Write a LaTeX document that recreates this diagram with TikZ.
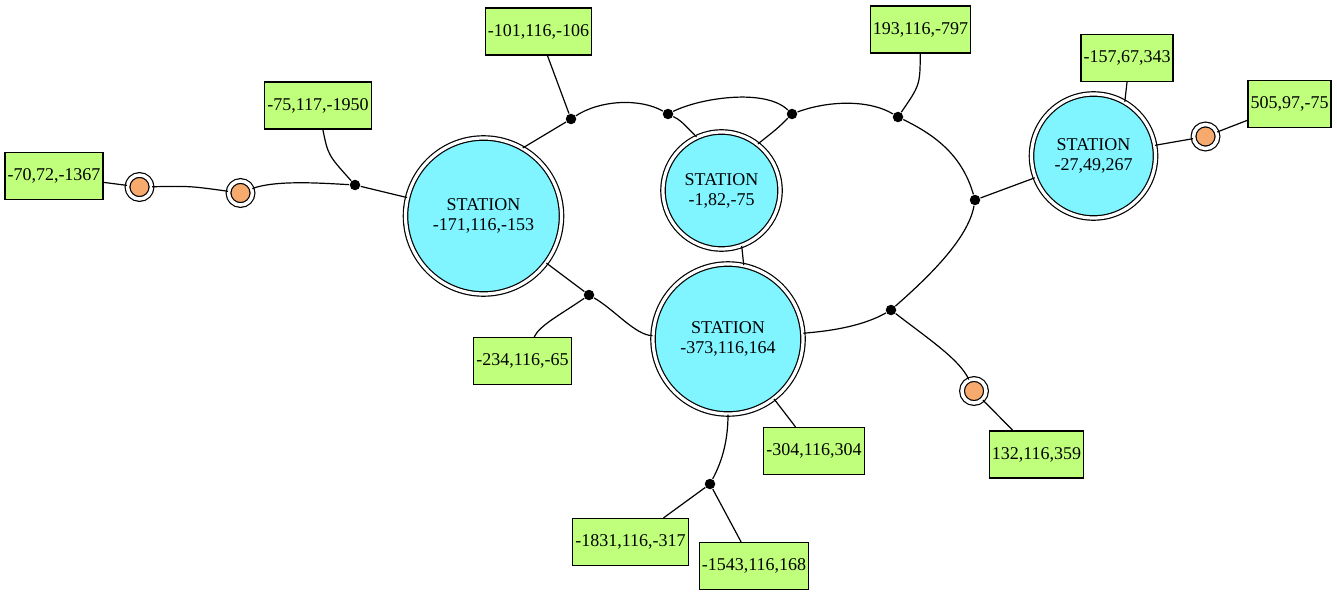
\documentclass[tikz,border=0pt]{standalone}
\usepackage{fontspec}
\setmainfont{Liberation Serif}

\definecolor{stationcyan}{RGB}{128,245,255}
\definecolor{boxgreen}{RGB}{192,255,124}
\definecolor{relayorange}{RGB}{246,170,110}

\begin{document}
\begin{tikzpicture}[x=1pt, y=-1pt, line width=1.2pt,
    every node/.style={font=\fontsize{18}{20}\selectfont},
    station/.style={circle, draw, double, double distance=3.2pt, fill=stationcyan, inner sep=0pt, align=center},
    relay/.style={circle, draw, double, double distance=3.5pt, fill=relayorange, minimum size=24pt, inner sep=0pt},
    junction/.style={circle, fill=black, minimum size=10.5pt, inner sep=0pt},
    coordbox/.style={draw, fill=boxgreen, minimum height=47pt, inner xsep=2.5pt, inner ysep=0pt}]
    \useasboundingbox (0,0) rectangle (1337,596);

    % stations
    \node[station, minimum size=156pt] (s1) at (483.5,216) {STATION\\-171,116,-153};
    \node[station, minimum size=117pt] (s2) at (721.5,190.5) {STATION\\-1,82,-75};
    \node[station, minimum size=150pt] (s3) at (728,339) {STATION\\-373,116,164};
    \node[station, minimum size=124pt] (s4) at (1093.5,156) {STATION\\-27,49,267};

    % relays
    \node[relay] (o1) at (139.5,187) {};
    \node[relay] (o2) at (240.5,193) {};
    \node[relay] (o3) at (1205.5,136.5) {};
    \node[relay] (o4) at (974,391) {};

    % junctions
    \node[junction] (d1) at (355,185) {};
    \node[junction] (d2) at (571,119) {};
    \node[junction] (d3) at (668,114) {};
    \node[junction] (d4) at (792,114) {};
    \node[junction] (d5) at (898,117) {};
    \node[junction] (d6) at (975,200) {};
    \node[junction] (d7) at (589,295) {};
    \node[junction] (d8) at (891,310) {};
    \node[junction] (d9) at (710,484) {};

    % coordinates
    \node[coordbox] (b1) at (54,176) {-70,72,-1367};
    \node[coordbox] (b2) at (318,105.5) {-75,117,-1950};
    \node[coordbox] (b3) at (538.5,31.5) {-101,116,-106};
    \node[coordbox] (b4) at (920.5,29.5) {193,116,-797};
    \node[coordbox] (b5) at (1127,58) {-157,67,343};
    \node[coordbox] (b6) at (1289.5,104) {505,97,-75};
    \node[coordbox] (b7) at (522.5,361) {-234,116,-65};
    \node[coordbox] (b8) at (814,451) {-304,116,304};
    \node[coordbox] (b9) at (1036.5,454.5) {132,116,359};
    \node[coordbox] (b10) at (630.5,542) {-1831,116,-317};
    \node[coordbox] (b11) at (754,566) {-1543,116,168};

    % links
    \draw (b1) -- (o1);
    \draw (o1) .. controls (190,186) .. (o2);
    \draw (o2) .. controls (275,180) and (320,183) .. (d1);
    \draw (b2) .. controls (328,155) .. (d1);
    \draw (d1) -- (s1);
    \draw (s1.60) -- (d2);
    \draw (b3) -- (d2);
    \draw (d2) .. controls (600,100) and (640,98) .. (d3);
    \draw (d3) .. controls (680,120) .. (s2.115);
    \draw (d3) .. controls (700,98) and (765,88) .. (d4);
    \draw (d4) .. controls (778,128) .. (s2.52);
    \draw (d4) .. controls (830,100) and (870,100) .. (d5);
    \draw (b4) .. controls (920,85) .. (d5);
    \draw (d5) .. controls (935,135) and (962,155) .. (d6);
    \draw (d6) -- (s4);
    \draw (d6) .. controls (968,240) and (925,280) .. (d8);
    \draw (s4.60) -- (b5.south);
    \draw (s4) -- (o3);
    \draw (o3) -- (b6);
    \draw (s2.290) -- (s3.78);
    \draw (s1) -- (d7);
    \draw (d7) .. controls (560,315) and (540,325) .. (b7);
    \draw (d7) .. controls (615,310) and (635,335) .. (s3);
    \draw (s3) .. controls (845,330) and (870,322) .. (d8);
    \draw (d8) .. controls (930,340) and (960,360) .. (o4);
    \draw (o4) -- (b9);
    \draw (s3) -- (b8);
    \draw (s3) .. controls (728,445) and (720,465) .. (d9);
    \draw (d9) -- (b10);
    \draw (d9) -- (b11);
\end{tikzpicture}
\end{document}
